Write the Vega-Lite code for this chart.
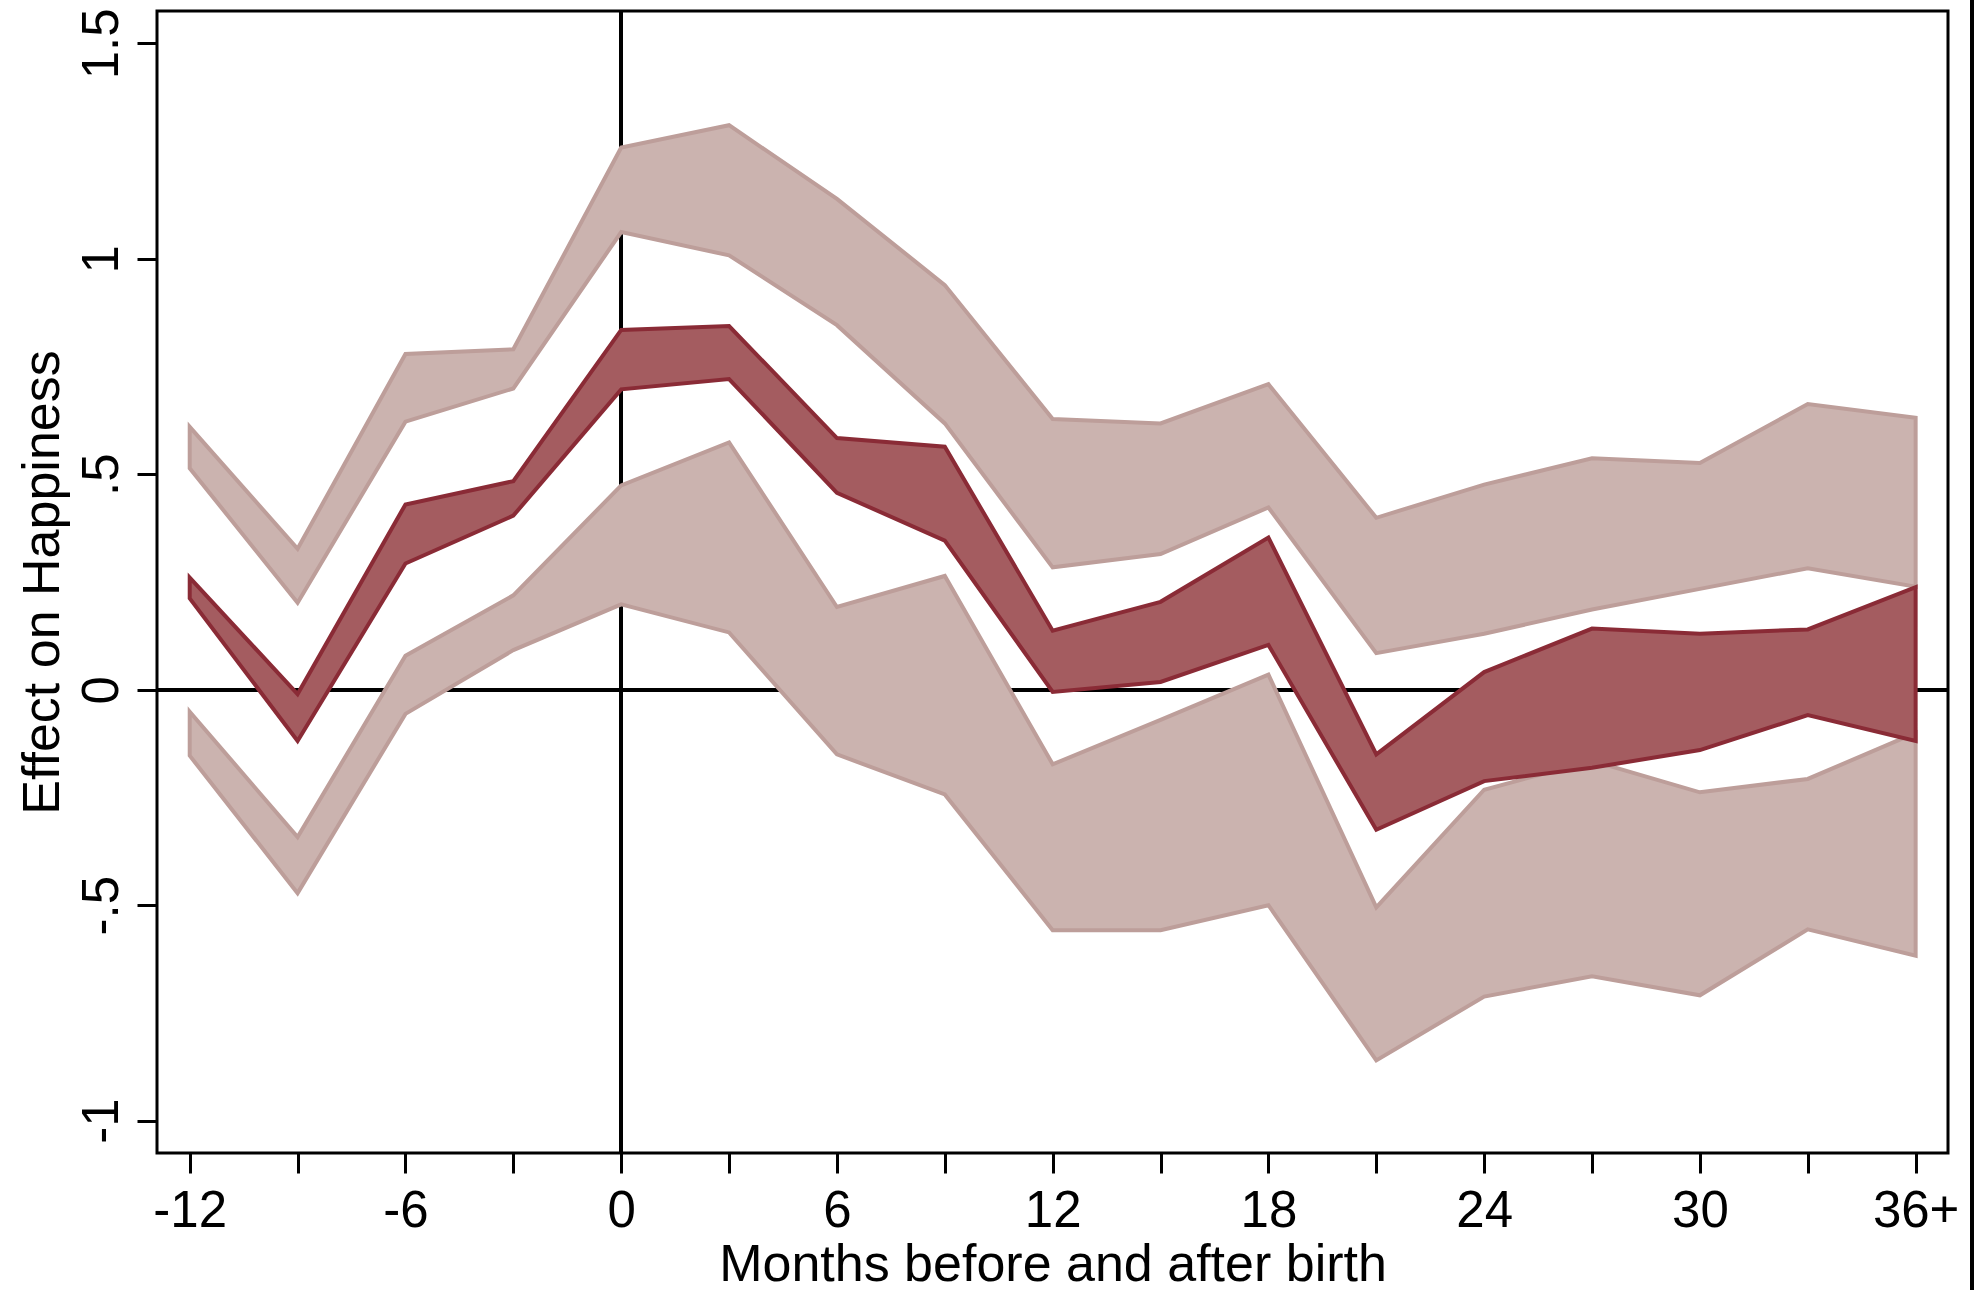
{
  "$schema": "https://vega.github.io/schema/vega-lite/v6.json",
  "width": 1791,
  "height": 1142,
  "autosize": {"type": "none"},
  "padding": {"left": 157, "top": 11, "right": 34, "bottom": 137},
  "background": "white",
  "data": {
    "values": [
      {"month": -12, "up_hi": 0.610, "up_lo": 0.514, "mid_hi": 0.260, "mid_lo": 0.212, "lo_hi": -0.051, "lo_lo": -0.153},
      {"month": -9, "up_hi": 0.327, "up_lo": 0.202, "mid_hi": -0.010, "mid_lo": -0.119, "lo_hi": -0.342, "lo_lo": -0.472},
      {"month": -6, "up_hi": 0.779, "up_lo": 0.622, "mid_hi": 0.430, "mid_lo": 0.293, "lo_hi": 0.079, "lo_lo": -0.056},
      {"month": -3, "up_hi": 0.790, "up_lo": 0.699, "mid_hi": 0.484, "mid_lo": 0.404, "lo_hi": 0.219, "lo_lo": 0.092},
      {"month": 0, "up_hi": 1.258, "up_lo": 1.062, "mid_hi": 0.835, "mid_lo": 0.697, "lo_hi": 0.474, "lo_lo": 0.198},
      {"month": 3, "up_hi": 1.310, "up_lo": 1.008, "mid_hi": 0.844, "mid_lo": 0.721, "lo_hi": 0.574, "lo_lo": 0.133},
      {"month": 6, "up_hi": 1.139, "up_lo": 0.846, "mid_hi": 0.584, "mid_lo": 0.457, "lo_hi": 0.192, "lo_lo": -0.150},
      {"month": 9, "up_hi": 0.939, "up_lo": 0.618, "mid_hi": 0.564, "mid_lo": 0.346, "lo_hi": 0.264, "lo_lo": -0.243},
      {"month": 12, "up_hi": 0.628, "up_lo": 0.284, "mid_hi": 0.137, "mid_lo": -0.005, "lo_hi": -0.173, "lo_lo": -0.558},
      {"month": 15, "up_hi": 0.618, "up_lo": 0.315, "mid_hi": 0.204, "mid_lo": 0.018, "lo_hi": -0.070, "lo_lo": -0.558},
      {"month": 18, "up_hi": 0.709, "up_lo": 0.423, "mid_hi": 0.353, "mid_lo": 0.104, "lo_hi": 0.035, "lo_lo": -0.500},
      {"month": 21, "up_hi": 0.399, "up_lo": 0.085, "mid_hi": -0.150, "mid_lo": -0.325, "lo_hi": -0.505, "lo_lo": -0.860},
      {"month": 24, "up_hi": 0.476, "up_lo": 0.130, "mid_hi": 0.041, "mid_lo": -0.212, "lo_hi": -0.232, "lo_lo": -0.712},
      {"month": 27, "up_hi": 0.537, "up_lo": 0.186, "mid_hi": 0.142, "mid_lo": -0.181, "lo_hi": -0.165, "lo_lo": -0.665},
      {"month": 30, "up_hi": 0.526, "up_lo": 0.234, "mid_hi": 0.130, "mid_lo": -0.140, "lo_hi": -0.238, "lo_lo": -0.709},
      {"month": 33, "up_hi": 0.663, "up_lo": 0.282, "mid_hi": 0.140, "mid_lo": -0.059, "lo_hi": -0.207, "lo_lo": -0.556},
      {"month": 36, "up_hi": 0.631, "up_lo": 0.239, "mid_hi": 0.238, "mid_lo": -0.119, "lo_hi": -0.100, "lo_lo": -0.617}
    ]
  },
  "encoding": {
    "x": {
      "field": "month",
      "type": "quantitative",
      "scale": {"domain": [-12.91, 36.9], "nice": false, "zero": false},
      "axis": {
        "title": "Months before and after birth",
        "values": [-12, -9, -6, -3, 0, 3, 6, 9, 12, 15, 18, 21, 24, 27, 30, 33, 36],
        "labelExpr": "datum.value % 6 === 0 ? (datum.value === 36 ? '36+' : '' + datum.value) : ''",
        "labelBaseline": "alphabetic",
        "labelPadding": 53,
        "labelFlush": false,
        "labelOverlap": false,
        "titleBaseline": "alphabetic",
        "titleY": 127
      }
    }
  },
  "layer": [
    {
      "mark": {"type": "rule", "color": "black", "strokeWidth": 3},
      "encoding": {"y": {"datum": 0, "type": "quantitative", "scale": {"domain": [-1.075, 1.575], "nice": false, "zero": false}}, "x": null}
    },
    {
      "mark": {"type": "rule", "color": "black", "strokeWidth": 3},
      "encoding": {"x": {"datum": 0, "type": "quantitative"}}
    },
    {
      "mark": {"type": "area", "fill": "#cbb3af", "stroke": "#bd9e9a", "strokeWidth": 4, "fillOpacity": 1},
      "encoding": {
        "y": {
          "field": "up_hi",
          "type": "quantitative",
          "scale": {"domain": [-1.075, 1.575], "nice": false, "zero": false},
          "axis": {
            "title": "Effect on Happiness",
            "values": [-1, -0.5, 0, 0.5, 1, 1.5],
            "labelExpr": "replace('' + datum.value, '0.', '.')",
            "labelAngle": -90,
            "labelAlign": "center",
            "labelBaseline": "alphabetic",
            "labelPadding": 20,
            "labelOverlap": false,
            "titleAngle": -90,
            "titleBaseline": "alphabetic",
            "titleX": -99
          }
        },
        "y2": {"field": "up_lo"}
      }
    },
    {
      "mark": {"type": "area", "fill": "#cbb3af", "stroke": "#bd9e9a", "strokeWidth": 4, "fillOpacity": 1},
      "encoding": {
        "y": {"field": "lo_hi", "type": "quantitative"},
        "y2": {"field": "lo_lo"}
      }
    },
    {
      "mark": {"type": "area", "fill": "#a45c60", "stroke": "#8a2b36", "strokeWidth": 4, "fillOpacity": 1},
      "encoding": {
        "y": {"field": "mid_hi", "type": "quantitative"},
        "y2": {"field": "mid_lo"}
      }
    },
    {
      "mark": {"type": "rule", "color": "black", "strokeWidth": 3, "clip": false},
      "encoding": {
        "x": {"datum": 37.56, "type": "quantitative"},
        "y": {"datum": 1.61, "type": "quantitative"},
        "y2": {"datum": -1.4}
      }
    }
  ],
  "config": {
    "view": {"stroke": "black", "strokeWidth": 3},
    "axis": {
      "domain": false,
      "grid": false,
      "ticks": true,
      "tickColor": "black",
      "tickWidth": 3,
      "tickSize": 20,
      "labelColor": "black",
      "labelFont": "Liberation Sans",
      "labelFontSize": 51,
      "titleFont": "Liberation Sans",
      "titleFontSize": 52,
      "titleFontWeight": "normal",
      "titleColor": "black"
    }
  }
}
